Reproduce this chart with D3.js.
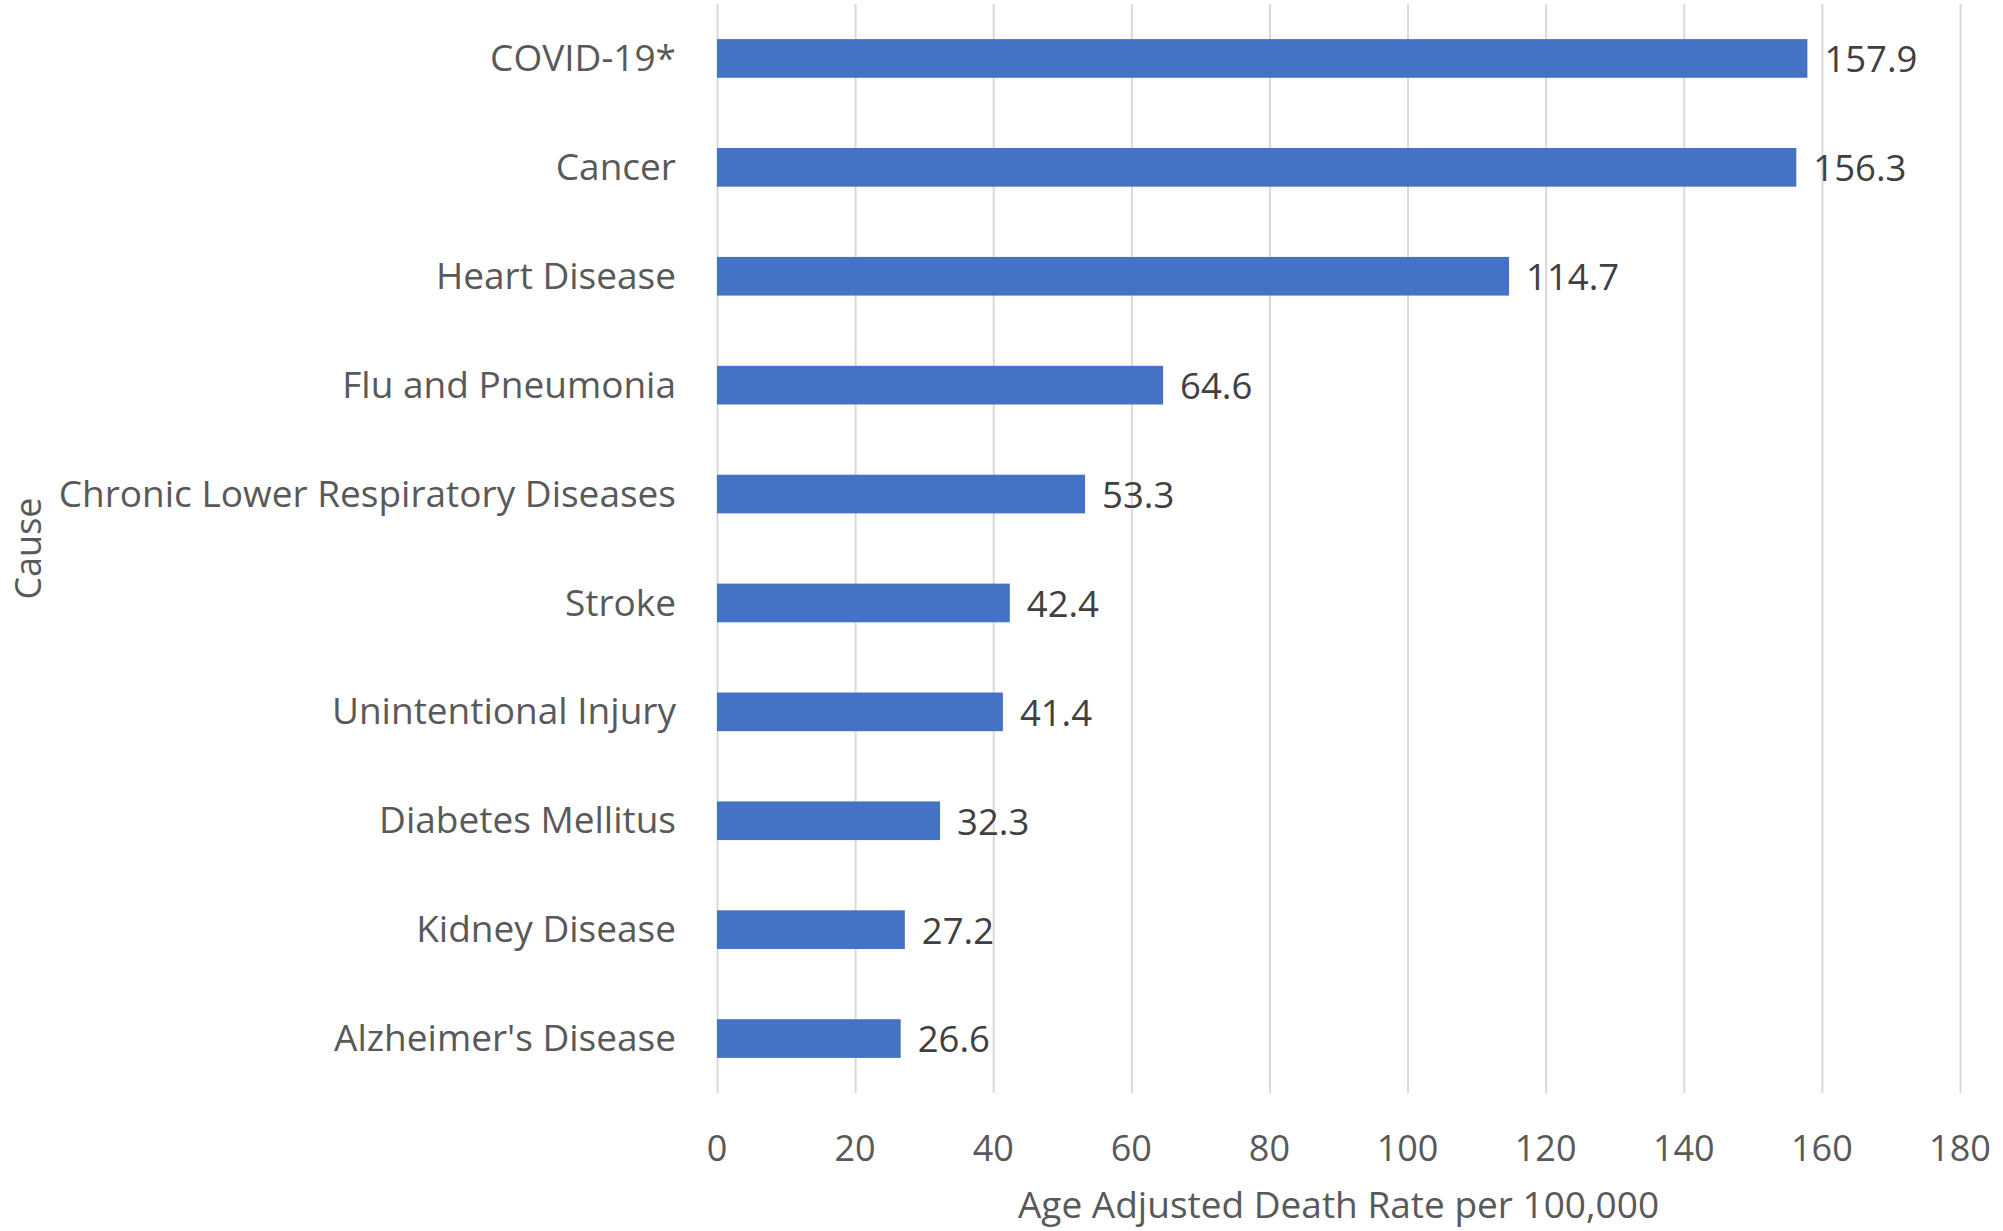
<!DOCTYPE html>
<style>
    body {
        margin: 0;
        background: #fff;
        font-family: 'Open Sans', sans-serif;
    }
    .grid line {
        stroke: #d9d9d9;
        stroke-width: 2px;
    }
    .grid .domain {
        display: none;
    }
</style>
<svg width="2003" height="1231"></svg>
<script src="https://d3js.org/d3.v7.min.js"></script>
<script>
    // data
    var causes = ["COVID-19*", "Cancer", "Heart Disease", "Flu and Pneumonia",
        "Chronic Lower Respiratory Diseases", "Stroke", "Unintentional Injury",
        "Diabetes Mellitus", "Kidney Disease", "Alzheimer's Disease"];
    var rates = [157.9, 156.3, 114.7, 64.6, 53.3, 42.4, 41.4, 32.3, 27.2, 26.6];
    var xTicks = [0, 20, 40, 60, 80, 100, 120, 140, 160, 180];

    var data = causes.map(function(c, i) { return {cause: c, rate: rates[i]}; });

    var svg = d3.select("svg"),
        plot = {left: 717, right: 1960, top: 4, bottom: 1093};

    var x = d3.scaleLinear()
        .domain([0, 180])
        .range([plot.left, plot.right]);

    var y = d3.scaleBand()
        .domain(causes)
        .range([plot.top, plot.bottom])
        .paddingInner(0.645)
        .paddingOuter(0.3225);

    // vertical gridlines
    svg.append("g")
        .attr("class", "grid")
        .attr("transform", "translate(0," + plot.bottom + ")")
        .call(d3.axisBottom(x).tickValues(xTicks).tickSize(-(plot.bottom - plot.top)).tickFormat(""));

    // bars
    svg.append("g")
        .selectAll("rect")
        .data(data)
        .enter().append("rect")
        .attr("x", x(0))
        .attr("y", function(d) { return y(d.cause); })
        .attr("width", function(d) { return x(d.rate) - x(0); })
        .attr("height", y.bandwidth())
        .attr("fill", "#4472c4");

    // value labels
    svg.append("g")
        .selectAll("text")
        .data(data)
        .enter().append("text")
        .attr("x", function(d) { return x(d.rate) + 17; })
        .attr("y", function(d) { return y(d.cause) + y.bandwidth() / 2; })
        .attr("dy", "0.38em")
        .attr("fill", "#404040")
        .style("font-size", "36.5px")
        .text(function(d) { return d.rate.toFixed(1); });

    // category labels
    svg.append("g")
        .selectAll("text")
        .data(causes)
        .enter().append("text")
        .attr("x", 676)
        .attr("y", function(d) { return y(d) + y.bandwidth() / 2; })
        .attr("dy", "0.34em")
        .attr("text-anchor", "end")
        .attr("fill", "#595959")
        .style("font-size", "37px")
        .text(function(d) { return d; });

    // x tick labels
    svg.append("g")
        .selectAll("text")
        .data(xTicks)
        .enter().append("text")
        .attr("x", function(d) { return x(d); })
        .attr("y", 1148)
        .attr("dy", "0.36em")
        .attr("text-anchor", "middle")
        .attr("fill", "#595959")
        .style("font-size", "36px")
        .text(function(d) { return d; });

    // axis titles
    svg.append("text")
        .attr("x", (plot.left + plot.right) / 2)
        .attr("y", 1205)
        .attr("dy", "0.36em")
        .attr("text-anchor", "middle")
        .attr("fill", "#595959")
        .style("font-size", "37px")
        .text("Age Adjusted Death Rate per 100,000");

    svg.append("text")
        .attr("transform", "translate(28," + ((plot.top + plot.bottom) / 2) + ") rotate(-90)")
        .attr("dy", "0.36em")
        .attr("text-anchor", "middle")
        .attr("fill", "#595959")
        .style("font-size", "36px")
        .text("Cause");
</script>
